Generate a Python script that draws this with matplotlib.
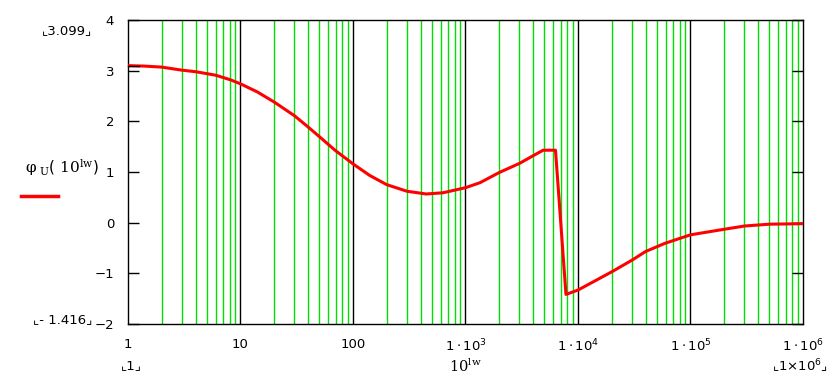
import numpy as np
import matplotlib
matplotlib.use("Agg")
import matplotlib.pyplot as plt

# curve: lw = log10(frequency), phase phi_U in rad
lw = [0.0, 0.15, 0.30, 0.48, 0.60, 0.78, 0.91, 1.00, 1.15, 1.30, 1.48,
      1.60, 1.70, 1.84, 2.00, 2.15, 2.30, 2.48, 2.65, 2.80, 3.00, 3.13,
      3.30, 3.48, 3.60, 3.69, 3.80, 3.893, 4.00, 4.30, 4.48, 4.60, 4.77,
      5.00, 5.30, 5.48, 5.70, 6.00]
phi = [3.099, 3.09, 3.07, 3.01, 2.98, 2.91, 2.82, 2.74, 2.58, 2.38, 2.11,
       1.89, 1.70, 1.43, 1.16, 0.93, 0.75, 0.62, 0.566, 0.59, 0.69, 0.79,
       0.99, 1.17, 1.32, 1.43, 1.43, -1.416, -1.33, -0.97, -0.74, -0.57,
       -0.41, -0.24, -0.13, -0.066, -0.03, -0.02]

phi_max = 3.099
phi_min = -1.416
xticks = [1, 10, 100, 1e3, 1e4, 1e5, 1e6]
xtick_labels = ["1", "10", "100", r"$\mathregular{1\cdot10^3}$",
                r"$\mathregular{1\cdot10^4}$", r"$\mathregular{1\cdot10^5}$",
                r"$\mathregular{1\cdot10^6}$"]
yticks = [-2, -1, 0, 1, 2, 3, 4]

plt.rcParams['font.family'] = ['DejaVu Sans']
plt.rcParams['font.size'] = 9.5

fig = plt.figure(figsize=(8.29, 3.77), dpi=100)
ax = fig.add_axes([128 / 829, 1 - 324 / 377, 675 / 829, 304 / 377])

f = 10.0 ** np.array(lw)

# grid: green minor lines, black decade lines
for dec in range(6):
    for m in range(2, 10):
        ax.axvline(m * 10.0 ** dec, color="#00e000", lw=1.0, zorder=1)
for dec in range(1, 6):
    ax.axvline(10.0 ** dec, color="black", lw=1.0, zorder=1)

ax.plot(f, phi, color="red", lw=2.2, zorder=3)

ax.set_xscale("log")
ax.set_xlim(1, 1e6)
ax.set_ylim(-2, 4)
ax.set_xticks(xticks)
ax.set_xticklabels(xtick_labels)
ax.xaxis.set_minor_locator(matplotlib.ticker.NullLocator())
ax.set_yticks(yticks)
ax.set_yticklabels([str(v).replace("-", "\u2212") for v in yticks])
ax.tick_params(axis="y", direction="in", length=8, width=1, pad=10,
               right=True)
ax.tick_params(axis="x", length=0, pad=10)
for s in ax.spines.values():
    s.set_linewidth(1.0)

# extra mark at the max value
ax.plot([1, 1.25], [phi_max, phi_max], color="black", lw=1, zorder=4,
        clip_on=False)

# Mathcad style range labels
fig.text(92 / 829, 1 - 31 / 377, "\u231e3.099\u231f", ha="right", va="center")
fig.text(92 / 829, 1 - 320 / 377, "\u231e- 1.416\u231f", ha="right", va="center")
fig.text(131 / 829, 1 - 366 / 377, "\u231e1\u231f", ha="center", va="center")
fig.text(800 / 829, 1 - 366 / 377, r"$\mathregular{\llcorner 1{\times}10^6 \lrcorner}$",
         ha="center", va="center")
fig.text(465 / 829, 1 - 366 / 377, r"$\mathregular{10^{lw}}$", ha="center",
         va="center", family="serif", fontsize=10.5)

# legend label on the left
fig.text(25 / 829, 1 - 168 / 377,
         r"$\mathregular{\varphi_{\ U}\left(\ 10^{lw}\right)}$",
         ha="left", va="center", family="serif", fontsize=11)
fig.add_artist(plt.Line2D([21 / 829, 58 / 829], [1 - 196 / 377, 1 - 196 / 377],
                          color="red", lw=2.5))

fig.savefig("out.png", dpi=100)
